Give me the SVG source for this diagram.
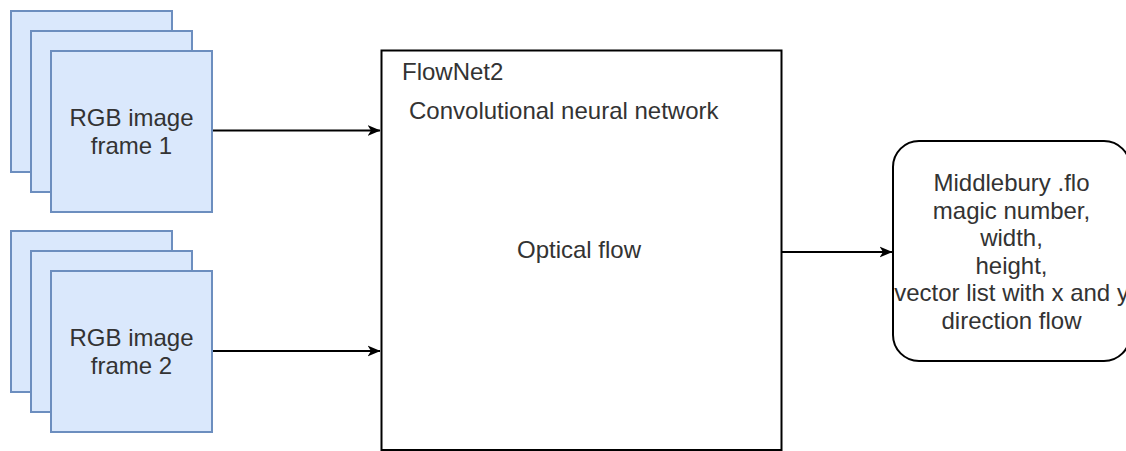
<svg xmlns="http://www.w3.org/2000/svg" width="1126" height="451" viewBox="0 0 1126 451">
<style>
.frame{fill:#dae8fc;stroke:#6c8ebf;stroke-width:2}
.box{fill:#fff;stroke:#000;stroke-width:2}
.t{font-family:"Liberation Sans",Arial,sans-serif;font-size:24px;fill:#333}
.c{text-anchor:middle}
.edge{fill:none;stroke:#000;stroke-width:2}
</style>
<defs>
<marker id="arr" viewBox="0 0 13 12" refX="12.5" refY="6" markerWidth="13" markerHeight="12" markerUnits="userSpaceOnUse" orient="auto">
<path d="M0,0.5 L13,6 L0,11.5 L3.5,6 Z" fill="#000"/>
</marker>
</defs>
<g id="connectors">
<path class="edge" d="M212,130.5 L380,130.5" marker-end="url(#arr)" stroke="#444"/>
<path class="edge" d="M212,351 L380,351" marker-end="url(#arr)"/>
<path class="edge" d="M782,252 L892,252" marker-end="url(#arr)"/>
</g>
<g id="frame1">
<rect class="frame" x="11" y="11" width="161" height="161"/>
<rect class="frame" x="31" y="31" width="161" height="161"/>
<rect class="frame" x="51" y="51" width="161" height="161"/>
<text class="t c" x="131.5" y="126">RGB image</text>
<text class="t c" x="131.5" y="154">frame 1</text>
</g>
<g id="frame2">
<rect class="frame" x="11" y="231" width="161" height="161"/>
<rect class="frame" x="31" y="251" width="161" height="161"/>
<rect class="frame" x="51" y="271" width="161" height="161"/>
<text class="t c" x="131.5" y="346">RGB image</text>
<text class="t c" x="131.5" y="374">frame 2</text>
</g>
<g id="flownet2">
<rect class="box" x="381.5" y="50.5" width="400" height="399.5"/>
<text class="t" x="402" y="80">FlowNet2</text>
<text class="t" x="409" y="119">Convolutional neural network</text>
<text class="t c" x="579" y="258">Optical flow</text>
</g>
<g id="output">
<rect class="box" x="893" y="141" width="237" height="220" rx="26" ry="26"/>
<text class="t c" x="1011.5" y="191">Middlebury .flo</text>
<text class="t c" x="1011.5" y="218.6">magic number,</text>
<text class="t c" x="1011.5" y="246.2">width,</text>
<text class="t c" x="1011.5" y="273.8">height,</text>
<text class="t c" x="1011.5" y="301.4">vector list with x and y</text>
<text class="t c" x="1011.5" y="329">direction flow</text>
</g>
</svg>
